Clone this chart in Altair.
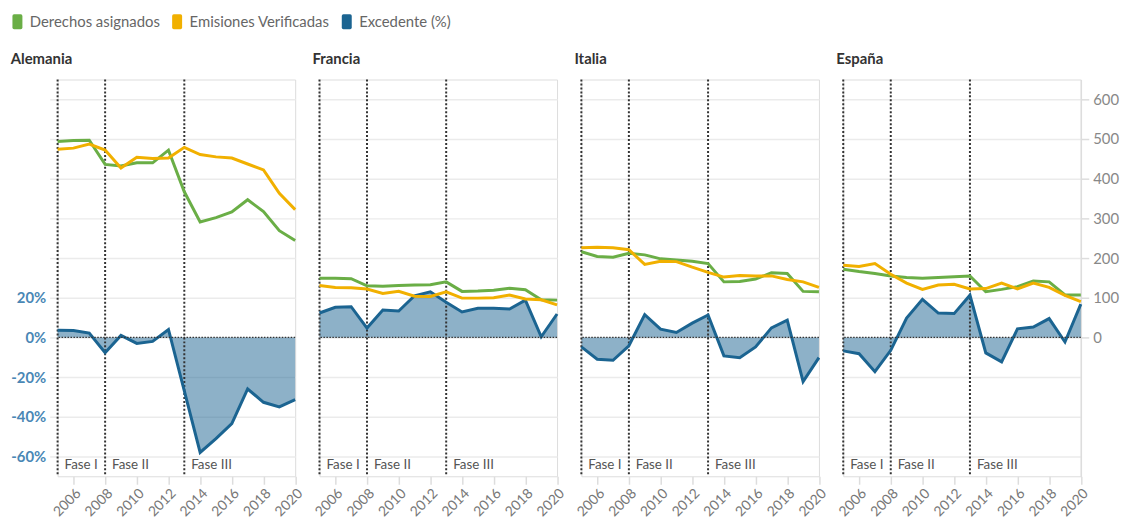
import altair as alt
import pandas as pd

# ---------------- data ----------------
years = list(range(2005, 2021))
paises = ["Alemania", "Francia", "Italia", "España"]

asig_alemania = [494, 496, 497, 436, 432, 440, 440, 472, 367, 291, 302, 316, 347, 317, 269, 244]
verif_alemania = [474, 477, 487, 472, 427, 454, 451, 452, 479, 461, 455, 452, 437, 422, 363, 322]
exc_alemania = [3.6, 3.5, 2.2, -7.7, 1.0, -3.0, -2.0, 4.0, -27.0, -58.0, -51.0, -43.4, -26.0, -32.7, -35.0, -31.4]

asig_francia = [149, 149, 148, 130, 129, 131, 132, 133, 140, 116, 117, 119, 124, 120, 95, 94]
verif_francia = [131, 126, 125, 122, 111, 116, 104, 103, 115, 99, 99, 100, 107, 97, 95, 82]
exc_francia = [12.3, 15.2, 15.5, 4.7, 13.8, 13.3, 21.0, 23.0, 17.7, 12.8, 14.7, 14.7, 14.3, 18.8, 0.3, 11.8]

asig_italia = [216, 204, 202, 212, 208, 198, 195, 192, 186, 140, 141, 147, 163, 161, 116, 115]
verif_italia = [226, 227, 226, 221, 184, 192, 191, 177, 164, 152, 156, 155, 155, 146, 140, 126]
exc_italia = [-4.8, -11.0, -11.5, -4.2, 11.5, 4.2, 2.5, 7.2, 11.3, -9.3, -10.2, -4.8, 4.8, 8.7, -22.3, -10.2]

asig_espana = [172, 166, 161, 155, 151, 149, 151, 153, 155, 115, 121, 128, 142, 140, 107, 107]
verif_espana = [182, 179, 186, 159, 137, 121, 132, 134, 122, 123, 137, 122, 137, 126, 106, 90]
exc_espana = [-6.8, -8.2, -17.3, -6.5, 9.8, 19.2, 12.3, 12.0, 21.3, -7.8, -12.3, 4.3, 5.2, 9.5, -2.3, 16.8]

fase_names = ["Fase I", "Fase II", "Fase III"]
fase_start = [2005, 2008, 2013]

series = ["Derechos asignados", "Emisiones Verificadas", "Excedente (%)"]
colores = ["#6aae46", "#f1b000", "#1b6491"]

pct_ticks = [-60, -40, -20, 0, 20, 40, 60, 80, 100, 120]
emis_ticks = [0, 100, 200, 300, 400, 500, 600]
year_ticks = [2006, 2008, 2010, 2012, 2014, 2016, 2018, 2020]

# ---------------- tables ----------------
por_pais = {
    "Alemania": (asig_alemania, verif_alemania, exc_alemania),
    "Francia": (asig_francia, verif_francia, exc_francia),
    "Italia": (asig_italia, verif_italia, exc_italia),
    "España": (asig_espana, verif_espana, exc_espana),
}
rows = []
for pais, trio in por_pais.items():
    for serie, vals in zip(series, trio):
        for y, v in zip(years, vals):
            rows.append({"pais": pais, "year": y, "serie": serie, "valor": v})
df = pd.DataFrame(rows)
fases = pd.DataFrame({"fase": fase_names, "inicio": fase_start})
cero = pd.DataFrame({"cero": [0]})

FONT = "Lato"
W, H = 239.5, 400
GRID = "#ebebeb"

LEGEND_PATH = ("M-0.45,-1 L0.45,-1 Q0.67,-1 0.67,-0.78 L0.67,0.78 Q0.67,1 0.45,1 "
               "L-0.45,1 Q-0.67,1 -0.67,0.78 L-0.67,-0.78 Q-0.67,-1 -0.45,-1 Z")

color = alt.Color(
    "serie:N",
    scale=alt.Scale(domain=series, range=colores),
    legend=alt.Legend(
        orient="none", legendX=-48, legendY=-66, direction="horizontal", title=None,
        symbolType=LEGEND_PATH, symbolSize=225, symbolOpacity=1,
        symbolStrokeWidth=0,
        labelFont=FONT, labelFontSize=15, labelColor="#666",
        columnPadding=9, labelOffset=5,
    ),
)

xscale = alt.Scale(domain=[2005, 2020], nice=False, zero=False)
xaxis = alt.Axis(values=year_ticks, format="d", labelAngle=-45, title=None, grid=False,
                 domain=False, tickColor="#dddddd", tickSize=8, tickWidth=1.5, labelColor="#777",
                 labelFontSize=14, labelFont=FONT, labelPadding=2, labelOverlap=False,
                 labelBound=False, labelFlush=False)
pct_scale = alt.Scale(domain=[-70, 130], nice=False, zero=False)
emis_scale = alt.Scale(domain=[-350, 650], nice=False, zero=False)


def panel(i, pais):
    first = i == 0
    last = i == len(paises) - 1
    if first:
        pct_axis = alt.Axis(values=pct_ticks, labelExpr="datum.value <= 20 ? datum.value + '%' : ''",
                            title=None, domain=False, tickColor=GRID, tickSize=8, tickWidth=1.5,
                            gridColor=GRID, gridWidth=1.5, labelColor="#4a87b5",
                            labelFontWeight="bold", labelFontSize=15, labelFont=FONT, labelPadding=4)
    else:
        pct_axis = alt.Axis(values=pct_ticks, labels=False, ticks=False, domain=False, title=None,
                            gridColor=GRID, gridWidth=1.5)
    if last:
        emis_axis = alt.Axis(values=emis_ticks, orient="right", title=None, grid=False,
                             domainColor="#dddddd", domainWidth=1.5, tickColor="#dddddd", tickSize=8,
                             tickWidth=1.5, labelColor="#888", labelFontSize=15, labelFont=FONT,
                             labelPadding=4)
    else:
        emis_axis = None

    base = alt.Chart(df).transform_filter(alt.datum.pais == pais)
    x = alt.X("year:Q", scale=xscale, axis=xaxis)
    y_pct = alt.Y("valor:Q", scale=pct_scale, axis=pct_axis)

    exc = base.transform_filter(alt.datum.serie == "Excedente (%)")
    area = exc.mark_area(opacity=0.5).encode(x=x, y=y_pct, y2=alt.datum(0), color=color)
    line_exc = exc.mark_line(strokeWidth=3).encode(x=x, y=y_pct, color=color)
    zero_rule = alt.Chart(cero).mark_rule(strokeDash=[1.5, 1.5], strokeWidth=1.2, color="#333").encode(
        y=alt.Y("cero:Q", scale=pct_scale, axis=pct_axis))
    fase_rules = alt.Chart(fases).mark_rule(strokeDash=[2, 2], strokeWidth=2, color="#333").encode(
        x=alt.X("inicio:Q", scale=xscale, axis=xaxis))
    fase_text = alt.Chart(fases).mark_text(align="left", baseline="middle", dx=7, fontSize=13.5,
                                           color="#555", font=FONT).encode(
        x=alt.X("inicio:Q", scale=xscale, axis=xaxis),
        y=alt.Y(datum=-64.5, scale=pct_scale, axis=pct_axis),
        text="fase:N")
    pct_layer = alt.layer(area, fase_rules, line_exc, zero_rule, fase_text)

    emis = base.transform_filter(alt.datum.serie != "Excedente (%)").mark_line(strokeWidth=3).encode(
        x=x, y=alt.Y("valor:Q", scale=emis_scale, axis=emis_axis), color=color)

    return alt.layer(pct_layer, emis).resolve_scale(y="independent").properties(
        width=W, height=H,
        title=alt.Title(pais, anchor="start", fontSize=15, fontWeight="bold", color="#333",
                        font=FONT, offset=12),
    )


chart = alt.hconcat(*[panel(i, p) for i, p in enumerate(paises)], spacing=24,
                    bounds="flush").configure_view(
    stroke=None).configure(font=FONT).properties(
    padding={"left": 2, "top": 4, "right": 0, "bottom": 0})

chart.save("out.html", embed_options={"renderer": "svg", "actions": False})
